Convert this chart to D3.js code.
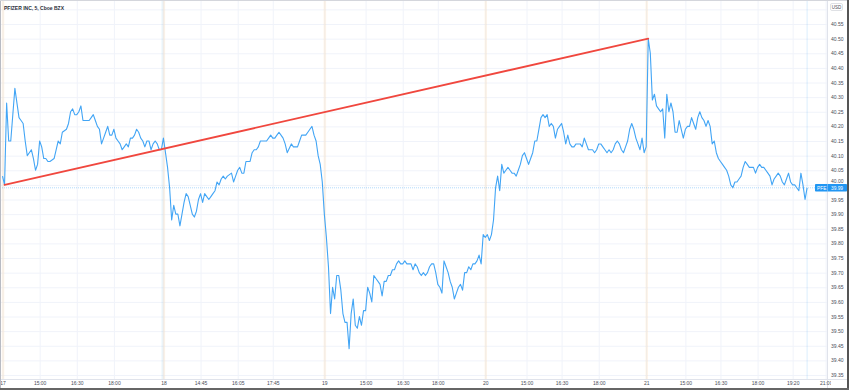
<!DOCTYPE html>
<html>
<head>
<meta charset="utf-8">
<script src="https://cdn.jsdelivr.net/npm/d3@7"></script>
<style>
  html, body { margin: 0; padding: 0; background: #fff; }
  svg { display: block; font-family: 'Liberation Sans', Arial, sans-serif; }
</style>
</head>
<body>
<svg id="chart" width="850" height="391"></svg>
<script>
// 5 minute bars, 78 per session (13:30 - 20:00 UTC), index counted from first bar of the 17th
const bar = [
  0, 1, 2, 3, 4, 6, 8, 9, 10, 11, 12, 13, 14, 15, 16, 17, 18, 19, 20, 21, 22, 23, 25, 26, 27, 28, 29, 31, 32, 33,
  34, 35, 36, 37, 38, 39, 41, 42, 43, 44, 45, 46, 47, 48, 49, 50, 51, 52, 53, 54, 55, 56, 57, 58, 59, 60, 61, 62, 63, 64,
  65, 66, 67, 68, 69, 70, 71, 72, 73, 74, 75, 76, 77,
  78, 79, 80, 81, 82, 83, 84, 85, 86, 87, 88, 89, 90, 91, 92, 93, 94, 95, 96, 97, 98, 99, 100, 101, 102, 103, 104, 105, 106, 107,
  108, 109, 111, 112, 113, 114, 115, 116, 117, 118, 119, 120, 121, 122, 123, 124, 125, 126, 127, 128, 129, 130, 131, 132, 133, 134, 135, 136, 137, 138,
  140, 141, 142, 143, 144, 145, 146, 147, 148, 149, 150, 151, 152, 153, 154, 155,
  156, 157, 158, 159, 160, 161, 162, 163, 164, 165, 166, 167, 168, 169, 170, 171, 172, 173, 174, 175, 176, 177, 178, 179, 180, 181, 182, 183, 184, 185,
  186, 187, 188, 189, 190, 191, 192, 193, 194, 195, 196, 197, 198, 199, 200, 201, 202, 203, 204, 205, 206, 207, 208, 209, 210, 211, 212, 213, 214, 215,
  216, 217, 218, 219, 220, 221, 222, 223, 224, 225, 226, 227, 228, 229, 230, 231, 232, 233,
  234, 235, 236, 237, 238, 239, 240, 241, 242, 243, 244, 245, 246, 247, 248, 249, 250, 251, 252, 253, 254, 255, 256, 257, 258, 259, 260, 261, 262, 263,
  264, 265, 266, 267, 268, 269, 270, 271, 272, 273, 274, 275, 276, 277, 278, 279, 280, 281, 282, 283, 284, 286, 287, 288, 289, 290, 291, 292, 293, 294,
  295, 296, 297, 298, 299, 300, 301, 302, 303, 304, 305, 306, 307, 308, 309, 310, 311,
  312, 313, 314, 315, 316, 317, 318, 319, 320, 321, 322, 323, 324, 325, 326, 327, 328, 329, 330, 331, 332, 333, 334, 335, 336, 337, 338, 339, 340, 341,
  342, 343, 344, 345, 346, 347, 348, 349, 350, 351, 352, 353, 354, 355, 356, 357, 358, 359, 360, 361, 362, 363, 364, 365, 366, 367, 368, 369, 370, 371,
  372, 373, 374, 375, 376, 377, 378, 379, 380, 381, 382, 383, 384, 385, 386, 387, 388, 389, 390
];
const close = [
  40.03, 40.00, 40.28, 40.15, 40.15, 40.33, 40.23, 40.22, 40.21, 40.15, 40.10, 40.11, 40.12, 40.09, 40.05, 40.07, 40.15, 40.13, 40.09, 40.09, 40.08, 40.08, 40.09, 40.12, 40.15, 40.14, 40.18, 40.19, 40.21, 40.25,
  40.26, 40.24, 40.24, 40.25, 40.27, 40.22, 40.22, 40.22, 40.23, 40.24, 40.22, 40.20, 40.19, 40.14, 40.16, 40.18, 40.20, 40.17, 40.17, 40.19, 40.16, 40.15, 40.14, 40.12, 40.13, 40.14, 40.13, 40.16, 40.16, 40.17,
  40.19, 40.18, 40.16, 40.15, 40.13, 40.15, 40.15, 40.12, 40.14, 40.15, 40.14, 40.12, 40.12,
  40.16, 40.11, 40.06, 39.99, 39.88, 39.93, 39.90, 39.90, 39.86, 39.90, 39.94, 39.97, 39.96, 39.93, 39.90, 39.89, 39.91, 39.95, 39.97, 39.94, 39.97, 39.96, 39.95, 39.96, 39.97, 39.98, 40.01, 40.00, 40.02, 40.03,
  40.02, 40.03, 40.04, 40.01, 40.03, 40.05, 40.06, 40.04, 40.04, 40.08, 40.08, 40.08, 40.11, 40.12, 40.12, 40.13, 40.15, 40.15, 40.15, 40.15, 40.16, 40.17, 40.16, 40.16, 40.17, 40.18, 40.17, 40.16, 40.14, 40.11,
  40.14, 40.13, 40.13, 40.13, 40.15, 40.17, 40.17, 40.17, 40.18, 40.19, 40.20, 40.17, 40.15, 40.10, 40.07, 40.01,
  39.90, 39.82, 39.72, 39.56, 39.65, 39.61, 39.69, 39.69, 39.64, 39.56, 39.53, 39.53, 39.44, 39.56, 39.61, 39.52, 39.51, 39.55, 39.52, 39.57, 39.57, 39.65, 39.63, 39.60, 39.69, 39.68, 39.67, 39.66, 39.62, 39.67,
  39.67, 39.69, 39.69, 39.71, 39.71, 39.73, 39.74, 39.73, 39.73, 39.74, 39.73, 39.73, 39.73, 39.71, 39.73, 39.72, 39.70, 39.69, 39.70, 39.69, 39.70, 39.72, 39.73, 39.73, 39.70, 39.66, 39.65, 39.63, 39.74, 39.72,
  39.70, 39.67, 39.65, 39.61, 39.63, 39.65, 39.66, 39.64, 39.70, 39.70, 39.72, 39.71, 39.73, 39.73, 39.74, 39.76, 39.73, 39.83,
  39.82, 39.83, 39.81, 39.83, 39.88, 39.99, 40.03, 39.98, 40.07, 40.04, 40.05, 40.06, 40.05, 40.04, 40.04, 40.03, 40.05, 40.07, 40.10, 40.11, 40.09, 40.07, 40.09, 40.11, 40.15, 40.15, 40.19, 40.23, 40.24, 40.23,
  40.24, 40.20, 40.21, 40.20, 40.16, 40.19, 40.20, 40.21, 40.18, 40.14, 40.17, 40.14, 40.13, 40.13, 40.14, 40.14, 40.14, 40.13, 40.16, 40.14, 40.12, 40.12, 40.11, 40.12, 40.14, 40.14, 40.13, 40.12, 40.11, 40.12,
  40.11, 40.12, 40.14, 40.15, 40.14, 40.12, 40.11, 40.13, 40.15, 40.19, 40.21, 40.19, 40.16, 40.14, 40.12, 40.16, 40.11,
  40.13, 40.50, 40.45, 40.29, 40.31, 40.27, 40.26, 40.25, 40.26, 40.16, 40.31, 40.25, 40.28, 40.25, 40.18, 40.18, 40.22, 40.19, 40.16, 40.19, 40.20, 40.20, 40.23, 40.21, 40.19, 40.23, 40.25, 40.23, 40.22, 40.20,
  40.22, 40.20, 40.14, 40.15, 40.11, 40.09, 40.08, 40.07, 40.06, 40.05, 40.03, 40.00, 39.99, 40.01, 40.01, 40.02, 40.03, 40.06, 40.08, 40.07, 40.06, 40.06, 40.06, 40.04, 40.06, 40.07, 40.06, 40.06, 40.05, 40.04,
  40.03, 40.00, 40.02, 40.03, 40.04, 40.03, 40.01, 40.00, 40.02, 40.04, 40.01, 40.00, 40.00, 39.99, 39.98, 40.04, 40.00, 39.95, 39.99
];

const trendBars = [1, 313];
const trendPrices = [40.00, 40.50];

const priceTicks = [39.35, 39.40, 39.45, 39.50, 39.55, 39.60, 39.65, 39.70, 39.75, 39.80, 39.85, 39.90, 39.95,
  40.00, 40.05, 40.10, 40.15, 40.20, 40.25, 40.30, 40.35, 40.40, 40.45, 40.50, 40.55];

const timeTickBars = [0, 18, 36, 54, 78, 96, 114, 131, 156, 176, 194, 211, 234, 254, 271, 289, 312, 331, 348, 366, 383, 399];
const timeTickLabels = ['17', '15:00', '16:30', '18:00', '18', '14:45', '16:05', '17:45', '19', '15:00', '16:30', '18:00',
  '20', '15:00', '16:30', '18:00', '21', '15:00', '16:30', '18:00', '19:20', '21:00'];

const sessionStarts = [0, 78, 156, 234, 312];
const symbol = 'PFE';
const lastPrice = 39.99;
const title = 'PFIZER INC, 5, Cboe BZX';

const plotRight = 827;
const plotBottom = 379;

const svg = d3.select('#chart');

const x = d3.scaleLinear().domain([0, 390]).range([2.5, 807.1]);
const y = d3.scaleLinear().domain([39.35, 40.55]).range([375, 24]);

svg.append('rect').attr('width', 850).attr('height', 391).attr('fill', '#fff');

const defs = svg.append('defs');
defs.append('clipPath').attr('id', 'plot-clip')
  .append('rect').attr('x', 0).attr('y', 0).attr('width', plotRight).attr('height', plotBottom);
defs.append('clipPath').attr('id', 'time-clip')
  .append('rect').attr('x', 0).attr('y', plotBottom).attr('width', 831).attr('height', 12);

const plot = svg.append('g').attr('clip-path', 'url(#plot-clip)');

//Grid lines
plot.append('g')
  .attr('class', 'grid-y')
  .call(d3.axisRight(y).tickValues(priceTicks.concat([40.60])).tickSize(plotRight).tickFormat(''))
  .call(g => g.select('.domain').remove())
  .selectAll('line').attr('stroke', '#f0f3fa');

plot.append('g')
  .attr('class', 'grid-x')
  .call(d3.axisBottom(x).tickValues(timeTickBars).tickSize(plotBottom).tickFormat(''))
  .call(g => g.select('.domain').remove())
  .selectAll('line').attr('stroke', '#f0f3fa');

//Session breaks
plot.append('g')
  .selectAll('line')
  .data(sessionStarts)
  .enter()
  .append('line')
  .attr('x1', d => x(d) + 0.5)
  .attr('x2', d => x(d) + 0.5)
  .attr('y1', 0)
  .attr('y2', plotBottom)
  .attr('stroke', 'rgba(255, 170, 60, 0.11)')
  .attr('stroke-width', 2.5);

plot.append('line')
  .attr('x1', x(78) - 1)
  .attr('x2', x(78) - 1)
  .attr('y1', 0)
  .attr('y2', plotBottom)
  .attr('stroke', 'rgba(33, 150, 243, 0.09)')
  .attr('stroke-width', 2);

//Last bar and last price markers
plot.append('line')
  .attr('x1', x(bar[bar.length - 1]))
  .attr('x2', x(bar[bar.length - 1]))
  .attr('y1', 0)
  .attr('y2', plotBottom)
  .attr('stroke', 'rgba(33, 150, 243, 0.16)')
  .attr('stroke-width', 1);

plot.append('line')
  .attr('x1', 0)
  .attr('x2', plotRight)
  .attr('y1', y(lastPrice))
  .attr('y2', y(lastPrice))
  .attr('stroke', 'rgba(33, 150, 243, 0.35)')
  .attr('stroke-width', 1)
  .attr('stroke-dasharray', '1,1');

//Price line
const line = d3.line()
  .x((d, i) => x(bar[i]))
  .y(d => y(d));

plot.append('path')
  .datum(close)
  .attr('d', line)
  .attr('fill', 'none')
  .attr('stroke', '#42a5f5')
  .attr('stroke-width', 1.1)
  .attr('stroke-linejoin', 'round');

//Trend line
plot.append('line')
  .attr('x1', x(trendBars[0]))
  .attr('y1', y(trendPrices[0]))
  .attr('x2', x(trendBars[1]))
  .attr('y2', y(trendPrices[1]))
  .attr('stroke', '#f0473e')
  .attr('stroke-width', 1.8)
  .attr('stroke-linecap', 'round');

//Axes
svg.append('line')
  .attr('x1', plotRight + 0.5).attr('x2', plotRight + 0.5)
  .attr('y1', 0).attr('y2', 388)
  .attr('stroke', '#e0e3eb');
svg.append('line')
  .attr('x1', 0).attr('x2', 848)
  .attr('y1', plotBottom + 0.5).attr('y2', plotBottom + 0.5)
  .attr('stroke', '#e0e3eb');

//Price labels, the one under the last price badge is nudged up out of its way
const labelY = y(lastPrice);
svg.append('g')
  .attr('transform', 'translate(' + plotRight + ',0)')
  .call(d3.axisRight(y).tickValues(priceTicks).tickSize(0).tickPadding(4).tickFormat(d3.format('.2f')))
  .call(g => g.select('.domain').remove())
  .selectAll('text')
  .attr('font-size', 5)
  .attr('font-family', "'Liberation Sans', Arial, sans-serif")
  .attr('fill', '#4a4d57')
  .attr('dy', d => (Math.abs(y(d) - labelY) < 6 ? (y(d) < labelY ? '-0.45em' : '1.1em') : '0.32em'));

svg.append('g')
  .attr('clip-path', 'url(#time-clip)')
  .append('g')
  .attr('transform', 'translate(0,' + plotBottom + ')')
  .call(d3.axisBottom(x).tickValues(timeTickBars).tickSize(0).tickPadding(2)
    .tickFormat((d, i) => timeTickLabels[i]))
  .call(g => g.select('.domain').remove())
  .selectAll('text')
  .attr('font-size', 5)
  .attr('font-family', "'Liberation Sans', Arial, sans-serif")
  .attr('fill', '#4a4d57');

//Currency badge
svg.append('rect')
  .attr('x', 830.5).attr('y', 3.5).attr('width', 12).attr('height', 7).attr('rx', 1.5)
  .attr('fill', '#fff').attr('stroke', '#c9ccd4').attr('stroke-width', 0.6);
svg.append('text')
  .attr('x', 836.5).attr('y', 8.8)
  .attr('text-anchor', 'middle')
  .attr('font-size', 4.5)
  .attr('fill', '#4a4d57')
  .text('USD');

//Last price label
svg.append('rect')
  .attr('x', 815).attr('y', labelY - 3.8).attr('width', 32).attr('height', 7.6).attr('rx', 0.8)
  .attr('fill', '#2196f3');
svg.append('line')
  .attr('x1', 827.5).attr('x2', 827.5).attr('y1', labelY - 3.8).attr('y2', labelY + 3.8)
  .attr('stroke', '#fff').attr('stroke-width', 0.5).attr('stroke-opacity', 0.6);
svg.append('text')
  .attr('x', 817).attr('y', labelY + 1.8)
  .attr('font-size', 4.8)
  .attr('fill', '#fff')
  .text(symbol);
svg.append('text')
  .attr('x', 831).attr('y', labelY + 1.8)
  .attr('font-size', 4.8)
  .attr('fill', '#fff')
  .text(d3.format('.2f')(lastPrice));

//Title
svg.append('text')
  .attr('x', 4).attr('y', 9.5)
  .attr('font-size', 5)
  .attr('font-weight', 'bold')
  .attr('fill', '#2a2e39')
  .text(title);

//Frame
svg.append('line')
  .attr('x1', 0.5).attr('x2', 0.5).attr('y1', 0).attr('y2', 389)
  .attr('stroke', '#b8bbc3');
svg.append('line')
  .attr('x1', 0).attr('x2', 848).attr('y1', 0.5).attr('y2', 0.5)
  .attr('stroke', '#d4d6dc');
svg.append('line')
  .attr('x1', 848).attr('x2', 848).attr('y1', 0).attr('y2', 390)
  .attr('stroke', '#555').attr('stroke-width', 2);
svg.append('line')
  .attr('x1', 0).attr('x2', 849).attr('y1', 389).attr('y2', 389)
  .attr('stroke', '#666').attr('stroke-width', 2);
</script>
</body>
</html>
